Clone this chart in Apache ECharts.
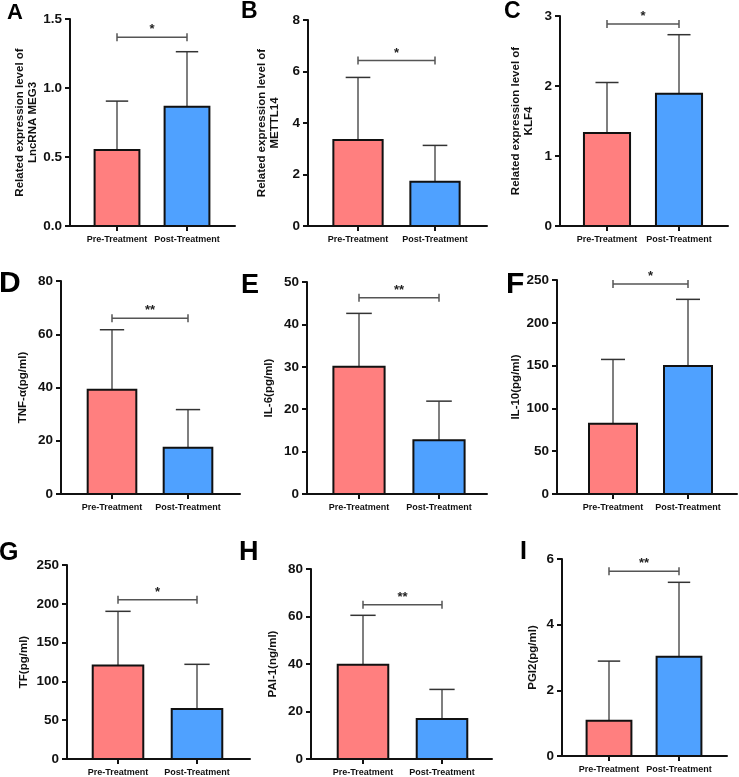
<!DOCTYPE html>
<html>

<head>
    <meta charset="utf-8">
    <script src="https://cdn.jsdelivr.net/npm/echarts@6/dist/echarts.min.js"></script>
    <style>
        html, body { margin: 0; padding: 0; background: #fff; }
    </style>
</head>

<body>
    <div id="main" style="width: 739px;height:777px;"></div>
    <script type="text/javascript">
        // data
        var categories = ['Pre-Treatment', 'Post-Treatment'];
        var panelLetters = ['A', 'B', 'C', 'D', 'E', 'F', 'G', 'H', 'I'];
        var yNames = [
            'Related expression level of\nLncRNA MEG3',
            'Related expression level of\nMETTL14',
            'Related expression level of\nKLF4',
            'TNF-α(pg/ml)',
            'IL-6(pg/ml)',
            'IL-10(pg/ml)',
            'TF(pg/ml)',
            'PAI-1(ng/ml)',
            'PGI2(pg/ml)'
        ];
        var yMax = [1.5, 8, 3, 80, 50, 250, 250, 80, 6];
        var yInterval = [0.5, 2, 1, 20, 10, 50, 50, 20, 2];
        var preMean = [0.55, 3.34, 1.33, 39.2, 30.0, 82, 120.5, 39.7, 1.07];
        var postMean = [0.865, 1.72, 1.89, 17.4, 12.7, 149.4, 64.5, 16.8, 3.02];
        var preSD = [0.355, 2.43, 0.72, 22.5, 12.6, 75.2, 69.8, 20.8, 1.82];
        var postSD = [0.398, 1.41, 0.843, 14.3, 9.2, 78, 57.5, 12.5, 2.27];
        var bracketY = [1.367, 6.43, 2.886, 66, 46.3, 245.3, 205.3, 65, 5.63];
        var signif = ['*', '*', '*', '**', '**', '*', '*', '**', '**'];

        // layout: [axisX, tickPre, tickPost, axisEnd, top, bottom] in px
        var layout = [
            [70, 117, 187, 235, 19, 226],
            [308, 358, 435, 487, 20, 226],
            [560, 607, 679, 728, 16, 226],
            [61, 112, 188, 240, 281, 494],
            [307, 359, 439, 487, 282, 494],
            [557, 613, 688, 737, 280, 494],
            [67, 118, 197, 250, 565, 759],
            [311, 363, 442, 492, 569, 759],
            [562, 609, 679, 727, 559, 756]
        ];
        var nameGaps = [31, 27, 25, 32, 32, 27, 37, 32, 23];
        // letter [x, y, fontSize]
        var letterPos = [
            [7, 2, 22], [241, 0, 23], [504, 0, 23],
            [-1, 269, 30], [241, 272, 27], [506, 270, 30],
            [-1, 541, 25], [239, 539, 27], [520, 540, 25]
        ];

        var colors = ['#ff7f7f', '#4fa1ff'];
        var FONT = 'Liberation Sans, Arial, sans-serif';
        var BAR_HALF = 0.32;
        var CAP_HALF = 0.16;

        var myChart = echarts.init(document.getElementById('main'));

        var grids = [], xAxes = [], yAxes = [], series = [], graphics = [];

        for (var i = 0; i < 9; i++) {
            var L = layout[i];
            var sp = L[2] - L[1];
            var xMin = 1 - (L[1] - L[0]) / sp;
            var xMax = 2 + (L[3] - L[2]) / sp;
            var decimals = yInterval[i] < 1 ? 1 : 0;
            grids.push({
                left: L[0], top: L[4],
                width: L[3] - L[0], height: L[5] - L[4]
            });
            xAxes.push({
                type: 'value', gridIndex: i, min: xMin, max: xMax,
                axisLine: { show: true, onZero: false, lineStyle: { color: '#111', width: 2 } },
                axisTick: { show: true, customValues: [1, 2], length: 5, lineStyle: { color: '#111', width: 2 } },
                axisLabel: {
                    customValues: [1, 2], margin: 9,
                    fontFamily: FONT, fontWeight: 'bold', fontSize: 9, color: '#111',
                    formatter: function (v) { return categories[Math.round(v) - 1]; }
                },
                splitLine: { show: false }
            });
            yAxes.push({
                type: 'value', gridIndex: i, min: 0, max: yMax[i], interval: yInterval[i],
                name: yNames[i], nameLocation: 'middle', nameRotate: 90, nameGap: nameGaps[i],
                nameTextStyle: { fontFamily: FONT, fontWeight: 'bold', fontSize: 11.5, color: '#111', lineHeight: 13 },
                axisLine: { show: true, onZero: false, lineStyle: { color: '#111', width: 2 } },
                axisTick: { show: true, length: 5, lineStyle: { color: '#111', width: 2 } },
                axisLabel: {
                    margin: 8, fontFamily: FONT, fontWeight: 'bold', fontSize: 13.5, color: '#111',
                    formatter: (function (d) {
                        return function (v) { return v.toFixed(d); };
                    })(decimals)
                },
                splitLine: { show: false }
            });

            var rows = [[1, preMean[i], preSD[i]], [2, postMean[i], postSD[i]]];

            // error bars (upper only)
            series.push({
                type: 'custom', xAxisIndex: i, yAxisIndex: i, z: 2,
                data: rows,
                renderItem: function (params, api) {
                    var x = api.value(0), m = api.value(1), sd = api.value(2);
                    var pb = api.coord([x, m]);
                    var pt = api.coord([x, m + sd]);
                    var cl = api.coord([x - CAP_HALF, m + sd]);
                    var cr = api.coord([x + CAP_HALF, m + sd]);
                    return {
                        type: 'group', children: [
                            { type: 'line', shape: { x1: pb[0], y1: pb[1], x2: pt[0], y2: pt[1] }, style: { stroke: '#555', lineWidth: 1.5 } },
                            { type: 'line', shape: { x1: cl[0], y1: cl[1], x2: cr[0], y2: cr[1] }, style: { stroke: '#333', lineWidth: 1.5 } }
                        ]
                    };
                }
            });

            // bars
            series.push({
                type: 'custom', xAxisIndex: i, yAxisIndex: i, z: 3,
                data: rows,
                renderItem: function (params, api) {
                    var x = api.value(0), m = api.value(1);
                    var p0 = api.coord([x - BAR_HALF, m]);
                    var p1 = api.coord([x + BAR_HALF, 0]);
                    return {
                        type: 'rect',
                        shape: { x: p0[0], y: p0[1], width: p1[0] - p0[0], height: p1[1] - p0[1] },
                        style: { fill: colors[params.dataIndex], stroke: '#111', lineWidth: 2 }
                    };
                }
            });

            // significance bracket
            series.push({
                type: 'custom', xAxisIndex: i, yAxisIndex: i, z: 4,
                data: [[1, 2, bracketY[i], i]],
                renderItem: function (params, api) {
                    var a = api.coord([api.value(0), api.value(2)]);
                    var b = api.coord([api.value(1), api.value(2)]);
                    var idx = api.value(3);
                    return {
                        type: 'group', children: [
                            { type: 'line', shape: { x1: a[0], y1: a[1], x2: b[0], y2: b[1] }, style: { stroke: '#555', lineWidth: 1.5 } },
                            { type: 'line', shape: { x1: a[0], y1: a[1] - 4, x2: a[0], y2: a[1] + 4 }, style: { stroke: '#555', lineWidth: 1.5 } },
                            { type: 'line', shape: { x1: b[0], y1: b[1] - 4, x2: b[0], y2: b[1] + 4 }, style: { stroke: '#555', lineWidth: 1.5 } },
                            {
                                type: 'text',
                                style: {
                                    text: signif[idx], x: (a[0] + b[0]) / 2, y: a[1] - 1,
                                    textAlign: 'center', textVerticalAlign: 'bottom',
                                    font: 'bold 13px ' + FONT, fill: '#222'
                                }
                            }
                        ]
                    };
                }
            });

            graphics.push({
                type: 'text', left: letterPos[i][0], top: letterPos[i][1],
                style: {
                    text: panelLetters[i], fill: '#000',
                    font: 'bold ' + letterPos[i][2] + 'px ' + FONT
                }
            });
        }

        var option = {
            animation: false,
            backgroundColor: '#fff',
            grid: grids,
            xAxis: xAxes,
            yAxis: yAxes,
            series: series,
            graphic: graphics
        };

        myChart.setOption(option);
    </script>
</body>

</html>
